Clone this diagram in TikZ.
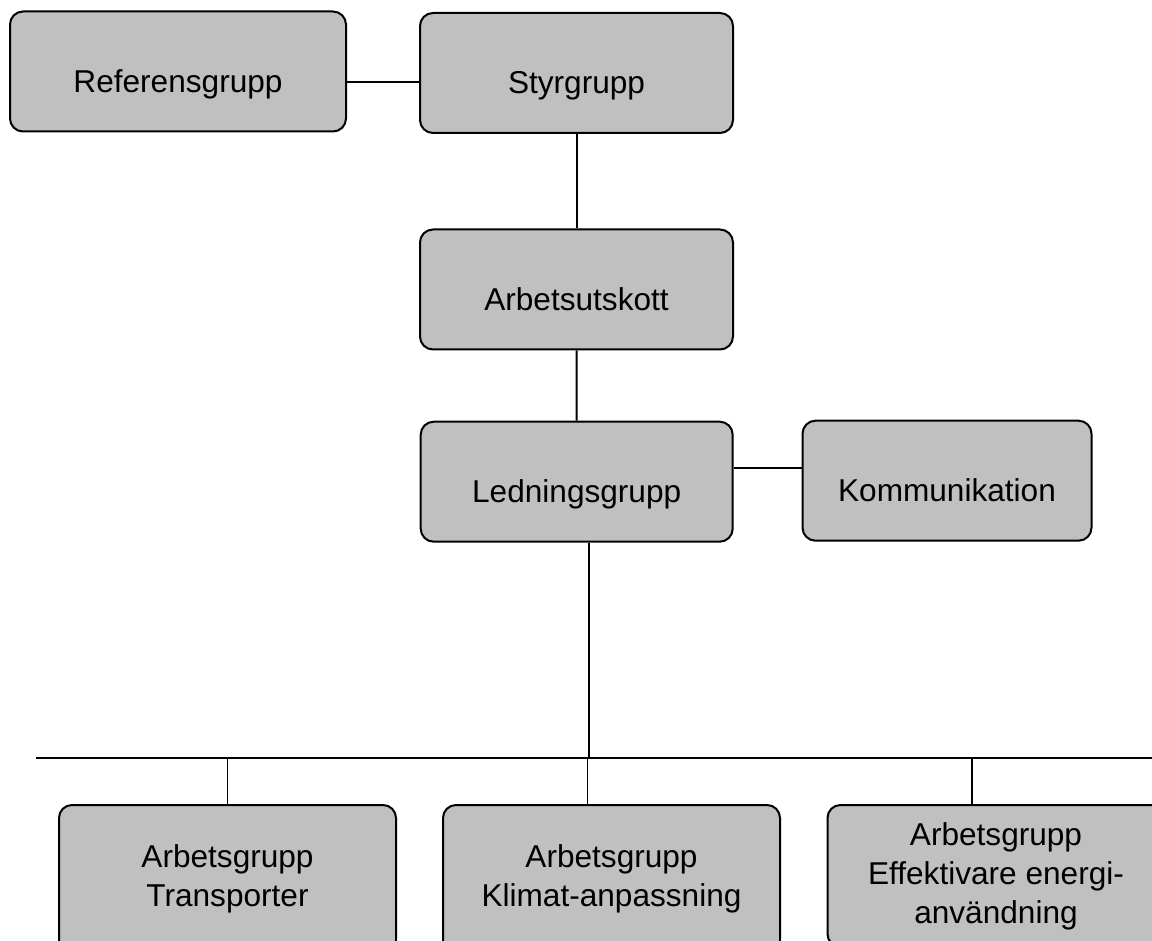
\documentclass[tikz,border=0pt]{standalone}
\usepackage{fontspec}
\setmainfont{Liberation Sans}

\definecolor{boxgray}{RGB}{192,192,192}
\tikzset{
  grp/.style={draw, line width=2pt, fill=boxgray, rounded corners=13pt,
    align=center, font=\fontsize{31.6}{39}\selectfont},
  topgrp/.style={grp, text height=42pt, text depth=0pt, minimum height=120pt},
  link/.style={line width=2pt},
  drop/.style={line width=1.4pt},
}

\begin{document}
\begin{tikzpicture}[x=1pt, y=-1pt]
  \useasboundingbox (0,0) rectangle (1152,941);
  \clip (0,0) rectangle (1152,941);
  \node[topgrp, minimum width=336pt] (ref) at (178,71.5) {Referensgrupp};
  \node[topgrp, minimum width=313pt] (styr) at (576.5,73) {Styrgrupp};
  \node[topgrp, minimum width=313pt] (au) at (576.5,289.5) {Arbetsutskott};
  \node[topgrp, minimum width=312pt] (ledn) at (576.7,481.7) {Ledningsgrupp};
  \node[topgrp, minimum width=289pt] (komm) at (947,480.7) {Kommunikation};
  \node[grp, minimum width=337pt, minimum height=148pt] (transp) at (227.5,879) {Arbetsgrupp\\Transporter};
  \node[grp, minimum width=337pt, minimum height=148pt] (klimat) at (611.5,879) {Arbetsgrupp\\Klimat-anpassning};
  \node[grp, minimum width=337pt, minimum height=142pt] (eff) at (996,876) {Arbetsgrupp\\Effektivare energi-\\användning};
  \coordinate (busL) at (36,757.5);
  \coordinate (busR) at (1152,757.5);
  \draw[link] ([yshift=-11pt]ref.east) -- ([yshift=-11pt]ref.east -| styr.west);
  \draw[link] (styr.south) -- (au.north);
  \draw[link] (au.south) -- (ledn.north);
  \draw[link] ([yshift=13.7pt]ledn.east) -- ([yshift=13.7pt]ledn.east -| komm.west);
  \draw[link] ([xshift=12pt]ledn.south) -- ([xshift=12pt]ledn.south |- busL);
  \draw[link] (busL) -- (busR);
  \foreach \g/\dx in {transp/0, klimat/-24, eff/-24}
    \draw[drop] ([xshift=\dx pt]\g.north) -- ([xshift=\dx pt]\g.north |- busL);
\end{tikzpicture}
\end{document}
